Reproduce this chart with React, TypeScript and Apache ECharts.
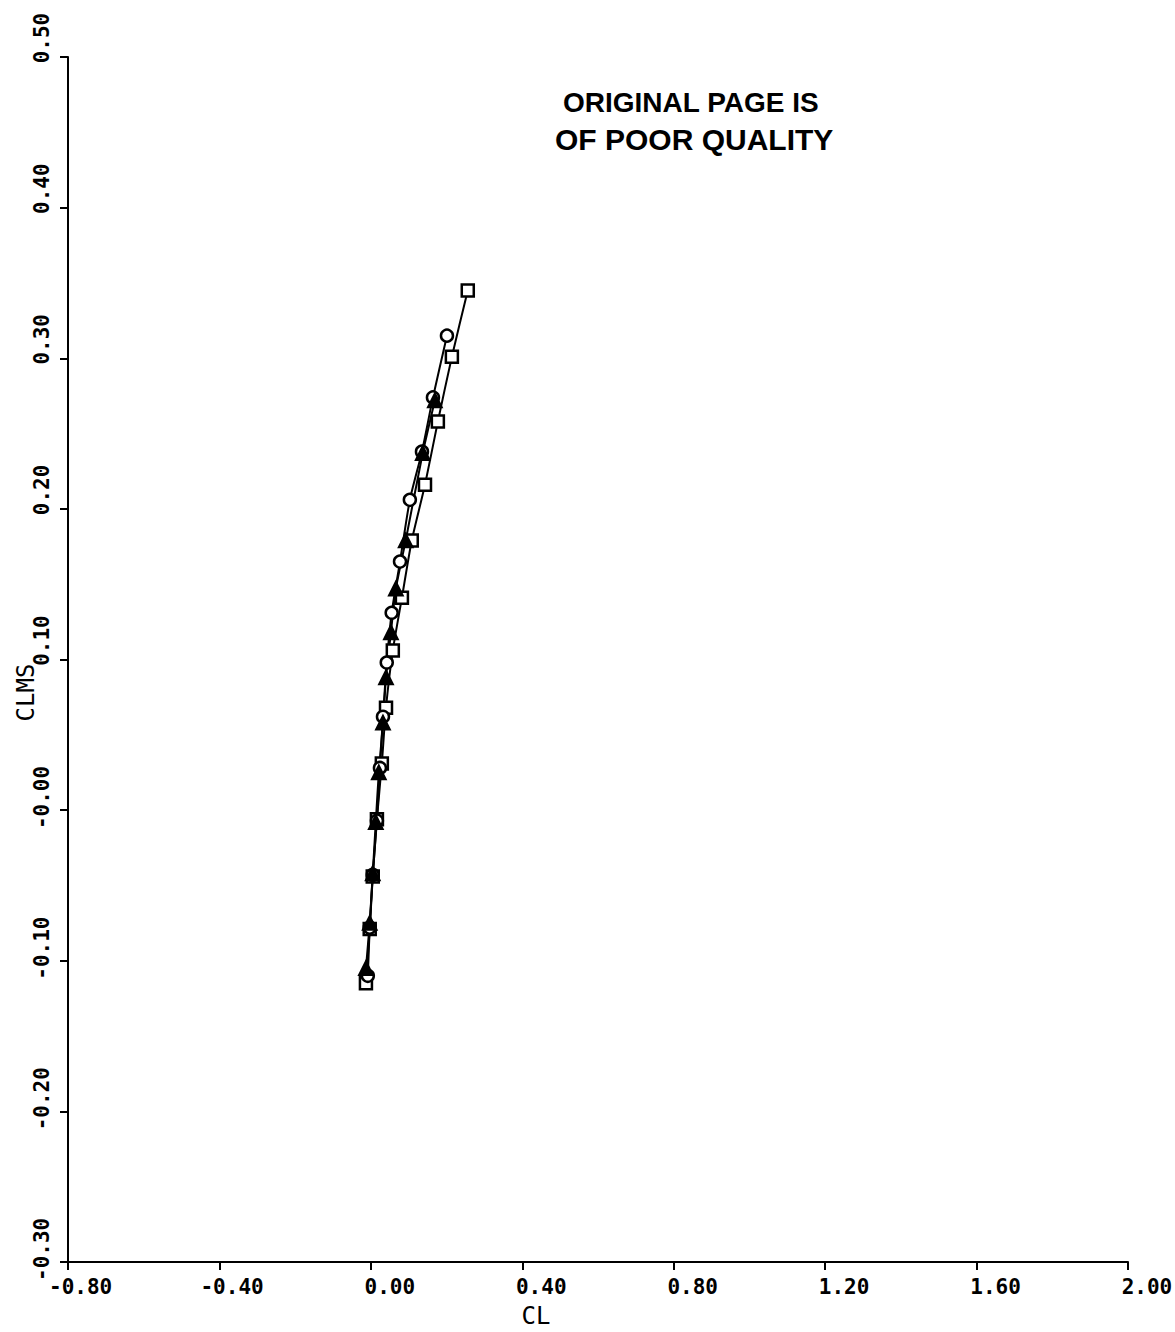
import React, { useEffect, useRef } from "react";
import * as echarts from "echarts";

// Series (CL, CLMS)
const squareCL = [-0.013, -0.003, 0.005, 0.016, 0.029, 0.040, 0.058, 0.082, 0.108, 0.143, 0.177, 0.214, 0.256];
const squareCLMS = [-0.115, -0.079, -0.044, -0.006, 0.031, 0.068, 0.106, 0.141, 0.179, 0.216, 0.258, 0.301, 0.345];

const circleCL = [-0.008, -0.003, 0.005, 0.016, 0.024, 0.032, 0.042, 0.055, 0.077, 0.103, 0.135, 0.164, 0.201];
const circleCLMS = [-0.110, -0.078, -0.043, -0.007, 0.028, 0.062, 0.098, 0.131, 0.165, 0.206, 0.238, 0.274, 0.315];

const triangleCL = [-0.013, -0.003, 0.005, 0.013, 0.021, 0.032, 0.040, 0.053, 0.066, 0.092, 0.137, 0.169];
const triangleCLMS = [-0.105, -0.075, -0.042, -0.008, 0.025, 0.058, 0.088, 0.118, 0.147, 0.179, 0.237, 0.272];

const xMin = -0.8, xMax = 2.0, xStep = 0.4;
const yMin = -0.3, yMax = 0.5, yStep = 0.1;

const watermark = ["ORIGINAL PAGE IS", "OF POOR QUALITY"];

const NB = "\u00a0";
const pad7 = (s: string) => NB.repeat(Math.max(0, 7 - s.length)) + s;
const fmtX = (v: number) => pad7((v < -1e-9 ? "-" : "") + Math.abs(v).toFixed(2));
const fmtY = (v: number) => pad7((v < 1e-9 ? "-" : "") + Math.abs(v).toFixed(2));

const zip = (a: number[], b: number[]) => a.map((x, i) => [x, b[i]]);

const mono = "DejaVu Sans Mono";

export default function App() {
  const ref = useRef<HTMLDivElement>(null);
  useEffect(() => {
    if (!ref.current) return;
    const chart = echarts.init(ref.current, null, { renderer: "svg" });
    const axisCommon = {
      axisLine: { onZero: false, lineStyle: { color: "#000", width: 2 } },
      axisTick: { show: true, inside: false, length: 8, lineStyle: { color: "#000", width: 2 } },
      splitLine: { show: false },
    };
    const lineSeries = (name: string, data: number[][], symbol: string, filled: boolean) => ({
      name,
      type: "line",
      data,
      symbol,
      symbolSize: symbol === "triangle" ? 13 : 12,
      showSymbol: true,
      smooth: 0.2,
      lineStyle: { color: "#000", width: 2 },
      itemStyle: { color: filled ? "#000" : "#fff", borderColor: "#000", borderWidth: 2.5 },
      z: 3,
    });
    chart.setOption({
      animation: false,
      backgroundColor: "#fff",
      grid: { left: 68, top: 57, right: 47, bottom: 70, containLabel: false, outerBoundsMode: "none" },
      xAxis: {
        type: "value",
        min: xMin,
        max: xMax,
        interval: xStep,
        name: "CL",
        nameLocation: "middle",
        nameGap: 42,
        nameMoveOverlap: false,
        nameTextStyle: { fontFamily: mono, fontSize: 24, color: "#000", padding: [0, 124, 0, 0] },
        ...axisCommon,
        axisLabel: {
          formatter: fmtX,
          align: "center",
          margin: 14,
          fontFamily: mono,
          fontSize: 21,
          fontWeight: "bold",
          color: "#000",
        },
      },
      yAxis: {
        type: "value",
        min: yMin,
        max: yMax,
        interval: yStep,
        name: "CLMS",
        nameLocation: "middle",
        nameGap: 30,
        nameMoveOverlap: false,
        nameTextStyle: { fontFamily: mono, fontSize: 24, color: "#000", padding: [0, 66, 0, 0] },
        ...axisCommon,
        axisLabel: {
          formatter: fmtY,
          rotate: 90,
          align: "center",
          verticalAlign: "bottom",
          margin: 16,
          fontFamily: mono,
          fontSize: 21,
          fontWeight: "bold",
          color: "#000",
        },
      },
      graphic: [
        {
          type: "text",
          left: 563,
          top: 88,
          style: { text: watermark[0], font: "bold 28px 'Liberation Sans'", fill: "#000" },
        },
        {
          type: "text",
          left: 555,
          top: 124,
          style: { text: watermark[1], font: "bold 30px 'Liberation Sans'", fill: "#000" },
        },
      ],
      series: [
        lineSeries("square", zip(squareCL, squareCLMS), "rect", false),
        lineSeries("circle", zip(circleCL, circleCLMS), "circle", false),
        lineSeries("triangle", zip(triangleCL, triangleCLMS), "triangle", true),
      ],
    });
    return () => chart.dispose();
  }, []);
  return (
    <div
      ref={ref}
      style={{ position: "fixed", left: 0, top: 0, width: 1175, height: 1332, background: "#fff" }}
    />
  );
}
